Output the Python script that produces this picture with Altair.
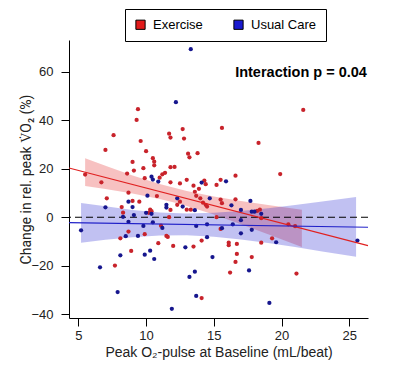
import altair as alt
import pandas as pd

groups = ["Exercise", "Usual Care"]

ex_x = [9.4, 9.3, 7.6, 11.7, 11.8, 12.7, 12.8, 15.6, 9.6, 7.0, 10.0, 13.1, 13.2, 13.8, 10.5, 10.6,
        9.0, 10.6, 9.8, 9.1, 11.8, 12.1, 11.4, 8.6, 5.5, 21.6, 18.3, 19.9, 16.6, 6.7, 9.9, 11.0,
        11.2, 7.1, 8.7, 9.0, 9.5, 10.8, 8.2, 8.3, 10.3, 10.4, 10.2, 11.1, 8.7, 9.9, 8.1, 10.9,
        11.5, 11.8, 12.5, 13.0, 13.5, 13.9, 13.6, 14.3, 14.4, 15.2, 15.5, 13.7, 14.0, 15.5, 15.6,
        16.6, 12.5, 12.3, 13.0, 13.3, 14.2, 14.4, 14.5, 11.8, 11.7, 15.2, 18.4, 18.5, 18.2, 15.5,
        11.6, 16.1, 16.1, 16.7, 18.5, 19.3, 20.5, 21.0, 16.7, 16.6, 17.8, 16.2, 21.1, 14.1, 7.7,
        8.9, 12.0, 13.5, 14.1]
ex_y = [44.5, 40.1, 33.8, 34.4, 32.8, 36.3, 32.4, 36.8, 31.4, 27.7, 27.2, 26.2, 24.7, 26.4, 24.3, 22.9,
        22.8, 21.4, 20.2, 19.2, 20.6, 20.7, 18.3, 18.0, 17.6, 44.2, 30.6, 17.8, 17.1, 14.4, 16.1, 16.3,
        17.7, 7.8, 10.1, 6.7, 6.4, 8.7, 4.2, 1.9, 3.1, 2.5, 1.8, -3.5, -5.9, -7.0, -8.7, -10.7,
        -7.7, 14.4, 13.9, 15.4, 13.0, 11.7, 10.5, 15.1, 13.6, 13.3, 15.4, 8.8, 7.8, 7.3, 5.8,
        7.4, 6.4, 5.1, 3.1, 3.1, 6.0, 5.1, 4.4, 3.0, 0.0, 0.0, 3.1, -0.4, 2.6, -4.8,
        -8.1, -10.5, -11.5, -11.0, -10.5, -8.7, -2.9, -3.7, -15.1, -18.4, -16.4, -22.8, -23.2, -33.3, -19.9,
        -13.9, -11.8, -12.1, -9.6]

uc_x = [13.3, 12.2, 10.4, 10.5, 10.9, 10.1, 7.0, 8.7, 9.0, 8.3, 9.1, 10.0, 10.4, 11.5, 11.5, 5.2,
        8.7, 9.8, 10.5, 8.5, 9.4, 11.2, 8.1, 6.6, 9.9, 10.3, 10.6, 12.9, 14.9, 13.6, 13.2, 7.9,
        13.7, 11.9, 14.1, 15.9, 14.7, 12.7, 13.6, 16.3, 17.0, 17.7, 17.8, 18.0, 18.5, 13.7, 14.5,
        15.6, 17.0, 17.8, 17.0, 14.5, 16.4, 19.6, 17.6, 19.1, 25.6, 12.3]
uc_y = [69.2, 47.4, 16.7, 15.5, 14.7, 8.9, 4.1, 6.4, 4.2, 0.2, 0.9, 1.8, 1.4, 5.1, 4.0, -5.4,
        -1.9, -3.6, -2.1, -7.8, -7.7, -4.4, -15.7, -20.6, -15.4, -13.8, -17.2, -12.4, -16.4, -22.4, -24.6, -30.8,
        -32.4, -37.7, 14.3, 14.8, 7.8, 4.4, 2.9, 4.9, 3.0, 6.7, 2.3, 2.3, 1.4, -3.6, -2.9,
        -4.5, -1.2, -5.2, -6.6, -8.2, -2.9, -10.3, -21.9, -35.3, -9.6, 7.8]

band_ex_x = [5.5, 7, 9, 11, 12, 13, 15, 17, 19, 21.5]
band_ex_lo = [12.9, 11.6, 9.8, 7.5, 6.2, 4.6, 1.1, -2.9, -7.0, -12.3]
band_ex_hi = [24.3, 21.2, 17.2, 13.7, 12.2, 10.8, 8.5, 6.7, 5.0, 3.1]

band_uc_x = [5.2, 7, 9, 11, 13, 15, 17, 19, 21, 23, 25.5]
band_uc_lo = [-10.5, -9.3, -8.2, -7.5, -7.4, -8.0, -9.2, -10.6, -12.3, -14.1, -16.3]
band_uc_hi = [5.9, 4.5, 3.0, 2.0, 1.5, 1.8, 2.6, 3.7, 5.0, 6.5, 8.3]

line_x = [4.31, 26.38]
line_ex_y = [20.3, -11.7]
line_uc_y = [-2.2, -4.1]

x_domain = [4.31, 26.38]
y_domain = [-41.5, 73]
x_ticks = [5, 7.5, 10, 12.5, 15, 17.5, 20, 22.5, 25]
y_ticks = [-40, -30, -20, -10, 0, 10, 20, 30, 40, 50, 60, 70]

annot = "Interaction p = 0.04"
annot_x = 26.3
annot_y = 59.5

x_title = "Peak O\u2082-pulse at Baseline (mL/beat)"
y_title = "Change in rel. peak V\u0307O\u2082 (%)"

FONT = "Liberation Sans"

pts = pd.DataFrame({
    "x": ex_x + uc_x,
    "y": ex_y + uc_y,
    "group": ["Exercise"] * len(ex_x) + ["Usual Care"] * len(uc_x),
})
bands = pd.DataFrame({
    "x": band_ex_x + band_uc_x,
    "lo": band_ex_lo + band_uc_lo,
    "hi": band_ex_hi + band_uc_hi,
    "group": ["Exercise"] * len(band_ex_x) + ["Usual Care"] * len(band_uc_x),
})
lines = pd.DataFrame({
    "x": line_x + line_x,
    "y": line_ex_y + line_uc_y,
    "group": ["Exercise"] * 2 + ["Usual Care"] * 2,
})
ann = pd.DataFrame({"x": [annot_x], "y": [annot_y], "t": [annot]})

xs = alt.Scale(domain=x_domain, nice=False, zero=False)
ys = alt.Scale(domain=y_domain, nice=False, zero=False)

x_axis = alt.Axis(values=x_ticks, labelExpr="datum.value % 5 === 0 ? datum.label : ''",
                  title=x_title, labelPadding=3, titlePadding=3)
y_axis = alt.Axis(values=y_ticks, labelExpr="datum.value % 20 === 0 ? datum.label : ''",
                  title=y_title, labelPadding=8, titlePadding=-3, titleFont="Roboto")

band_layer = alt.Chart(bands).mark_area(opacity=0.27).encode(
    x=alt.X("x:Q", scale=xs, axis=x_axis),
    y=alt.Y("lo:Q", scale=ys, axis=y_axis),
    y2="hi:Q",
    color=alt.Color("group:N", scale=alt.Scale(domain=groups, range=["#e21b1b", "#1a1ad0"]),
                    legend=alt.Legend(orient="none", legendX=56, legendY=-31, direction="horizontal",
                                      title=None, symbolType="square", symbolSize=85,
                                      symbolStrokeColor="black", symbolStrokeWidth=1,
                                      symbolOpacity=1, labelFontSize=13, labelFont=FONT,
                                      labelColor="black", strokeColor="black", padding=9,
                                      columnPadding=28, labelOffset=6, fillColor="white")),
)

zero_rule = alt.Chart(pd.DataFrame({"y": [0]})).mark_rule(
    color="black", strokeDash=[7, 4], strokeWidth=1.2).encode(y=alt.Y("y:Q", scale=ys))

line_layer = alt.Chart(lines).mark_line(strokeWidth=1.1).encode(
    x=alt.X("x:Q", scale=xs),
    y=alt.Y("y:Q", scale=ys),
    color=alt.Color("group:N", scale=alt.Scale(domain=groups, range=["#e02020", "#2020c8"]), legend=None),
)

pt_layer = alt.Chart(pts).mark_circle(size=18, opacity=1).encode(
    x=alt.X("x:Q", scale=xs),
    y=alt.Y("y:Q", scale=ys),
    color=alt.Color("group:N", scale=alt.Scale(domain=groups, range=["#c8232b", "#16168e"]), legend=None),
)

text_layer = alt.Chart(ann).mark_text(align="right", baseline="middle", fontSize=14.5,
                                      fontWeight="bold", font=FONT, color="black").encode(
    x=alt.X("x:Q", scale=xs), y=alt.Y("y:Q", scale=ys), text="t:N")

chart = alt.layer(band_layer, zero_rule, pt_layer, line_layer, text_layer).resolve_scale(
    color="independent"
).properties(
    width=299, height=278,
    autosize=alt.AutoSizeParams(type="none"),
    padding={"left": 61, "top": 32, "right": 32, "bottom": 52},
).configure_view(strokeWidth=0).configure_axis(
    grid=False, domainColor="black", tickColor="black", tickSize=8, domainWidth=1, tickWidth=1,
    labelFont=FONT, labelFontSize=13, labelColor="#222", titleFont=FONT, titleFontSize=14,
    titleFontWeight="normal", titleColor="#222",
)

chart.save("out.html", embed_options={"renderer": "svg", "actions": False})
